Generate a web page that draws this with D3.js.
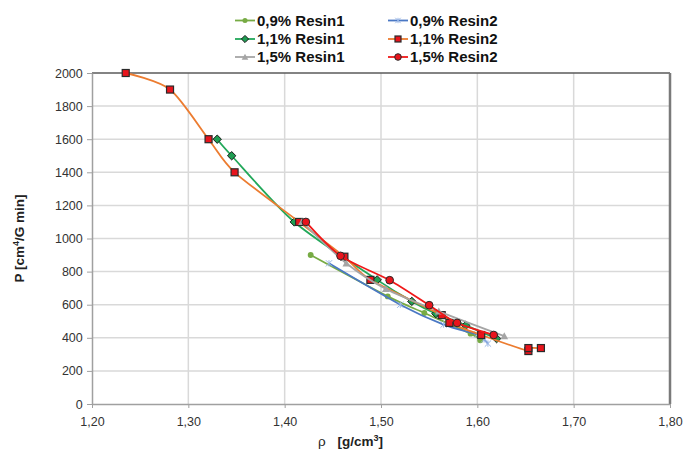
<!DOCTYPE html>
<html><head><meta charset="utf-8">
<script src="https://cdn.jsdelivr.net/npm/d3@7"></script>
<style>html,body{margin:0;padding:0;background:#fff;}svg{display:block;}</style>
</head><body>
<svg id="chart" width="697" height="457"></svg>
<script>
// ---- data ----
const seriesNames = ["0,9% Resin1", "0,9% Resin2", "1,1% Resin1", "1,1% Resin2", "1,5% Resin1", "1,5% Resin2"];
const rho09R1 = [1.427, 1.507, 1.545, 1.593, 1.603];
const p09R1   = [900, 650, 550, 425, 385];
const rho09R2 = [1.446, 1.520, 1.565, 1.600, 1.607, 1.611];
const p09R2   = [850, 600, 480, 420, 390, 365];
const rho11R1 = [1.330, 1.345, 1.410, 1.496, 1.532, 1.557, 1.588, 1.620];
const p11R1   = [1600, 1500, 1100, 750, 620, 546, 475, 395];
const rho11R2 = [1.235, 1.281, 1.321, 1.348, 1.415, 1.462, 1.489, 1.563, 1.571, 1.604, 1.653, 1.653, 1.666];
const p11R2   = [2000, 1900, 1600, 1400, 1100, 890, 750, 537, 490, 417, 320, 338, 338];
const rho15R1 = [1.418, 1.464, 1.505, 1.560, 1.628];
const p15R1   = [1100, 850, 695, 560, 410];
const rho15R2 = [1.422, 1.458, 1.509, 1.550, 1.579, 1.617];
const p15R2   = [1100, 895, 748, 597, 490, 417];
const xTickValues = [1.2, 1.3, 1.4, 1.5, 1.6, 1.7, 1.8];
const yTickValues = [0, 200, 400, 600, 800, 1000, 1200, 1400, 1600, 1800, 2000];

const seriesData = [
  {name: seriesNames[0], x: rho09R1, y: p09R1, line: "#77ab44", marker: "dot",      fill: "#77ab44", stroke: "none"},
  {name: seriesNames[1], x: rho09R2, y: p09R2, line: "#4a78c4", marker: "star",     fill: "none",    stroke: "#9ab7e6"},
  {name: seriesNames[2], x: rho11R1, y: p11R1, line: "#22a85a", marker: "diamond",  fill: "#1e9e52", stroke: "#1a1a1a"},
  {name: seriesNames[3], x: rho11R2, y: p11R2, line: "#ec7c30", marker: "square",   fill: "#e8141c", stroke: "#2a2a2a"},
  {name: seriesNames[4], x: rho15R1, y: p15R1, line: "#a5a5a5", marker: "triangle", fill: "#a5a5a5", stroke: "none"},
  {name: seriesNames[5], x: rho15R2, y: p15R2, line: "#f01818", marker: "circle",   fill: "#e8141c", stroke: "#2a2a2a"}
];

// ---- layout ----
const svg = d3.select("#chart");
const L = 92, R = 670, T = 73, B = 404;
const x = d3.scaleLinear().domain([1.2, 1.8]).range([L, R]);
const y = d3.scaleLinear().domain([0, 2000]).range([B, T]);
const fmtX = v => d3.format(".2f")(v).replace(".", ",");

// gridlines
const g = svg.append("g");
g.selectAll(".vg").data(xTickValues.slice(1, -1)).join("line")
  .attr("x1", d => x(d)).attr("x2", d => x(d)).attr("y1", T).attr("y2", B)
  .attr("stroke", "#d9d9d9").attr("stroke-width", 1.5);
g.selectAll(".hg").data(yTickValues.slice(1, -1)).join("line")
  .attr("x1", L).attr("x2", R).attr("y1", d => y(d)).attr("y2", d => y(d))
  .attr("stroke", "#d9d9d9").attr("stroke-width", 1.5);
// top & right border (darker)
g.append("line").attr("x1", L).attr("x2", R).attr("y1", T).attr("y2", T).attr("stroke", "#5a5a5a").attr("stroke-width", 1.5);
g.append("line").attr("x1", R).attr("x2", R).attr("y1", T).attr("y2", B).attr("stroke", "#7a7a7a").attr("stroke-width", 2.5);

// axes
const xAxis = d3.axisBottom(x).tickValues(xTickValues).tickFormat(fmtX).tickSize(4).tickSizeOuter(0);
const yAxis = d3.axisLeft(y).tickValues(yTickValues).tickFormat(d3.format("d")).tickSize(5).tickSizeOuter(0);
const gx = svg.append("g").attr("transform", `translate(0,${B})`).call(xAxis);
const gy = svg.append("g").attr("transform", `translate(${L},0)`).call(yAxis);
[gx, gy].forEach(a => {
  a.select(".domain").attr("stroke", "#a0a0a0").attr("stroke-width", 1.5);
  a.selectAll(".tick line").attr("stroke", "#a0a0a0").attr("stroke-width", 1);
  a.selectAll(".tick text").attr("fill", "#333").attr("font-family", "Liberation Sans, Arial, sans-serif").attr("font-size", 12.5);
});
gx.selectAll(".tick text").attr("dy", "1.2em");
gy.selectAll(".tick text").attr("dx", "-0.1em");

// axis titles
svg.append("text").attr("transform", `translate(24,${(T + B) / 2}) rotate(-90)`)
  .attr("text-anchor", "middle").attr("font-family", "Liberation Sans, Arial, sans-serif")
  .attr("font-size", 13.5).attr("font-weight", "bold").attr("fill", "#222")
  .html('P [cm<tspan baseline-shift="super" font-size="9">4</tspan>/G min]');
svg.append("text").attr("x", 318).attr("y", 446)
  .attr("font-family", "Liberation Sans, Arial, sans-serif").attr("font-size", 13.5).attr("fill", "#222")
  .html('ρ <tspan dx="8" font-weight="bold">[g/cm<tspan baseline-shift="super" font-size="9">3</tspan>]</tspan>');

// markers
function drawMarker(sel, type, size, fill, stroke) {
  const s = size;
  if (type === "dot") {
    sel.append("circle").attr("r", s * 0.42).attr("fill", fill);
  } else if (type === "circle") {
    sel.append("circle").attr("r", s * 0.55).attr("fill", fill).attr("stroke", stroke).attr("stroke-width", 1);
  } else if (type === "square") {
    sel.append("rect").attr("x", -s / 2).attr("y", -s / 2).attr("width", s).attr("height", s)
      .attr("fill", fill).attr("stroke", stroke).attr("stroke-width", 1.2);
  } else if (type === "diamond") {
    const h = s * 0.6;
    sel.append("path").attr("d", `M0,${-h}L${h},0L0,${h}L${-h},0Z`).attr("fill", fill).attr("stroke", stroke).attr("stroke-width", 1);
  } else if (type === "triangle") {
    const h = s * 0.55;
    sel.append("path").attr("d", `M0,${-h}L${h},${h * 0.8}L${-h},${h * 0.8}Z`).attr("fill", fill);
  } else if (type === "star") {
    const h = s * 0.45;
    sel.append("path").attr("d", `M${-h},${-h}L${h},${h}M${-h},${h}L${h},${-h}M0,${-h}L0,${h}`)
      .attr("stroke", stroke).attr("stroke-width", 1).attr("fill", "none");
  }
}

const lineGen = d3.line().x(d => x(d[0])).y(d => y(d[1])).curve(d3.curveCardinal.tension(0.2));
const plot = svg.append("g");
seriesData.forEach(s => {
  const pts = s.x.map((v, i) => [v, s.y[i]]);
  const sg = plot.append("g");
  sg.append("path").datum(pts).attr("d", lineGen).attr("fill", "none")
    .attr("stroke", s.line).attr("stroke-width", 1.8);
  pts.forEach(p => {
    const m = sg.append("g").attr("transform", `translate(${x(p[0])},${y(p[1])})`);
    drawMarker(m, s.marker, 7, s.fill, s.stroke);
  });
});

// legend
const legendCols = [235, 388];
const legendRows = [20.5, 39, 57];
const order = [0, 2, 4, 1, 3, 5];
order.forEach((si, k) => {
  const s = seriesData[si];
  const cx = legendCols[Math.floor(k / 3)], cy = legendRows[k % 3];
  const lg = svg.append("g");
  lg.append("line").attr("x1", cx).attr("x2", cx + 20).attr("y1", cy).attr("y2", cy)
    .attr("stroke", s.line).attr("stroke-width", 1.8);
  const m = lg.append("g").attr("transform", `translate(${cx + 10},${cy})`);
  drawMarker(m, s.marker, 6, s.fill, s.stroke);
  lg.append("text").attr("x", cx + 22).attr("y", cy).attr("dy", "0.36em")
    .attr("font-family", "Liberation Sans, Arial, sans-serif").attr("font-size", 15)
    .attr("font-weight", "bold").attr("fill", "#111").text(s.name);
});
</script>
</body></html>
